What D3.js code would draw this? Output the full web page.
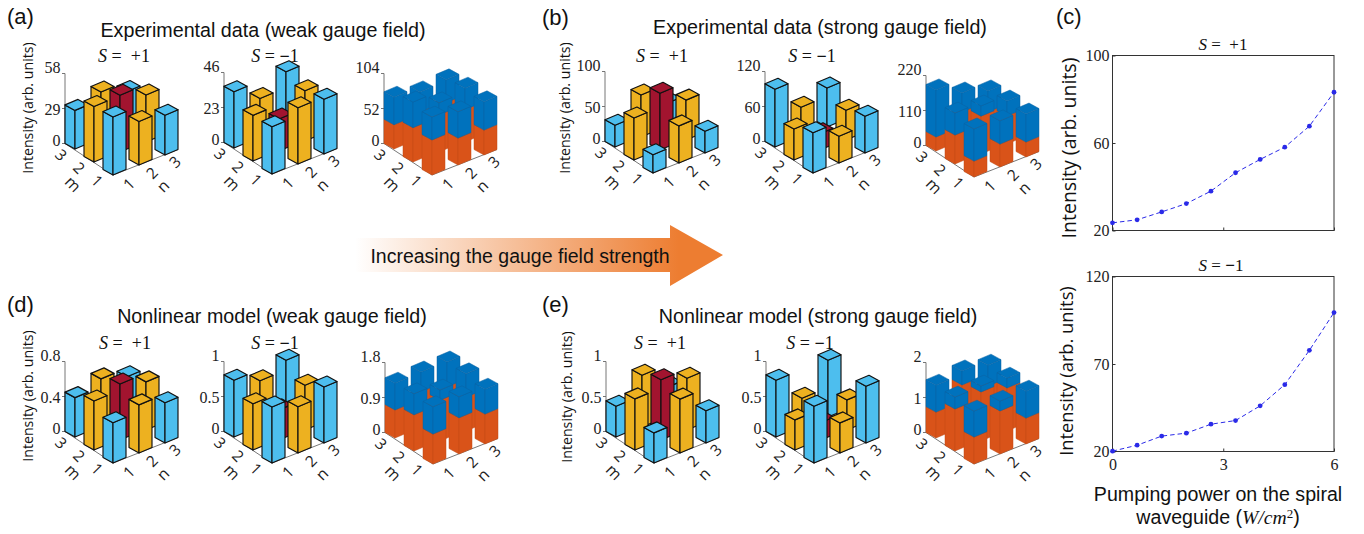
<!DOCTYPE html>
<html><head><meta charset="utf-8">
<script src="https://cdn.jsdelivr.net/npm/d3@7/dist/d3.min.js"></script>
<style>
html,body{margin:0;padding:0;background:#fff}
svg{display:block}
.ser{font-family:"Liberation Serif",serif}
.san{font-family:"Liberation Sans",Arial,sans-serif}
.seg{font-family:"Open Sans",sans-serif}
</style></head><body>
<svg id="c" width="1364" height="534"></svg>
<script>
// ---------- data (rows m = 1,2,3; columns n = 1,2,3) ----------
const mTicks = [1, 2, 3];
const nTicks = [1, 2, 3];

const a1Values = [[48, 36, 33], [46, 47, 39], [32, 39, 31]];
const a2Values = [[31, 37, 36], [30, 21, 33], [37, 26, 37]];
const a3Lower  = [[52, 40, 37], [51, 55, 48], [36, 40, 39]];
const a3Total  = [[86, 79, 79], [89, 73, 80], [77, 70, 73]];

const b1Values = [[26, 53, 31], [60, 81, 57], [31, 60, 34]];
const b2Values = [[69, 46, 63], [53, 28, 51], [99, 51, 67]];
const b3Lower  = [[50, 72, 47], [91, 119, 88], [44, 91, 60]];
const b3Total  = [[151, 145, 135], [160, 151, 135], [192, 151, 126]];

const d1Values = [[.46, .55, .46], [.56, .64, .55], [.45, .55, .46]];
const d2Values = [[.80, .66, .80], [.66, .43, .64], [.81, .66, .81]];
const d3Lower  = [[.77, .93, .77], [.93, 1.05, .87], [.72, .93, .80]];
const d3Total  = [[1.47, 1.47, 1.41], [1.47, 1.31, 1.47], [1.41, 1.44, 1.44]];

const e1Values = [[.43, .77, .46], [.73, .86, .74], [.44, .74, .43]];
const e2Values = [[.81, .43, .81], [.43, .25, .43], [.81, .41, .81]];
const e3Lower  = [[.77, 1.23, .74], [1.2, 1.4, 1.23], [.74, 1.23, .91]];
const e3Total  = [[1.51, 1.51, 1.51], [1.54, 1.57, 1.51], [1.51, 1.63, 1.51]];

const a1Ticks = ["0", "29", "58"],  a2Ticks = ["0", "23", "46"],  a3Ticks = ["0", "52", "104"];
const b1Ticks = ["0", "50", "100"], b2Ticks = ["0", "60", "120"], b3Ticks = ["0", "110", "220"];
const d1Ticks = ["0", "0.4", "0.8"], d2Ticks = ["0", "0.5", "1"], d3Ticks = ["0", "0.9", "1.8"];
const e1Ticks = ["0", "0.5", "1"],  e2Ticks = ["0", "0.5", "1"],  e3Ticks = ["0", "1", "2"];

const powerValues = [0, 0.667, 1.333, 2, 2.667, 3.333, 4, 4.667, 5.333, 6];
const plusIntensity  = [23.5, 24.9, 28.5, 32.3, 38, 46.4, 52.5, 58.1, 67.7, 83.2];
const minusIntensity = [20.2, 23.6, 28.8, 30.5, 35.6, 37.7, 46.1, 58.2, 77.8, 99.4];

// ---------- styles and layout ----------
const C = {cyan:"#4dbeee", gold:"#edb120", red:"#a2142f", blue:"#0072bd", rust:"#d95319"};
const svg = d3.select("#c");
const AXH = 70;
const mX = d3.scaleLinear([1,3],[0,-38]), mY = d3.scaleLinear([1,3],[0,-26]);
const nX = d3.scaleLinear([1,3],[0,52]),  nY = d3.scaleLinear([1,3],[0,-20]);
const foot = {mx:-10, my:-5.5, nx:13, ny:-5.5};
const line = d3.line();

function cellColor(mi, ni){
  const edge = (mi===1?1:0)+(ni===1?1:0);
  return edge===0 ? C.cyan : edge===1 ? C.gold : C.red;
}

function panel(fx, fy, ticks, opts){
  const g = svg.append("g");
  const max = +ticks[2];
  const z = d3.scaleLinear([0,max],[0,-AXH]);
  const P = (m,n,v=0,a=0,b=0)=>[fx+mX(m)+nX(n)+a*foot.mx+b*foot.nx, fy+mY(m)+nY(n)+z(v)+a*foot.my+b*foot.ny];
  const left = P(3,1,0,1,0), right = P(1,3,0,0,1), front = P(1,1);

  g.append("path").attr("d",line([left,front,right])).attr("fill","none").attr("stroke","#555").attr("stroke-width",.8);
  g.append("line").attr("x1",left[0]).attr("x2",left[0]).attr("y1",left[1]).attr("y2",left[1]-AXH)
    .attr("stroke","#666").attr("stroke-width",.9);
  const offs = [-3, 1, -6];
  ticks.forEach((t,i)=>{
    const y = left[1]+z(+t);
    g.append("line").attr("x1",left[0]-3).attr("x2",left[0]).attr("y1",y).attr("y2",y).attr("stroke","#666").attr("stroke-width",.9);
    g.append("text").attr("class","ser").attr("x",left[0]-4.5).attr("y",y+offs[i]).attr("dy","0.34em")
      .attr("text-anchor","end").attr("font-size",16).attr("fill","#222").text(t);
  });
  const lab = (x,y,rot,s,size)=>g.append("text").attr("class","seg").attr("text-anchor","middle").attr("dy","0.35em")
      .attr("font-size",size).attr("fill","#222").attr("transform",`translate(${x},${y}) rotate(${rot})`).text(s);
  mTicks.forEach((m,i)=>lab(fx-16-18*i, fy+6-13*i, 45, m, 15.5));
  nTicks.forEach((n,i)=>lab(fx+16+23*i, fy+9-11*i, -45, n, 15.5));
  lab(fx-40, fy+9, 45, "m", 16);
  lab(fx+50, fy+11, -45, "n", 16);

  function seg(m,n,v0,v1,fill,stroke,sw){
    const faces = [
      [P(m,n,v0),P(m,n,v0,1,0),P(m,n,v1,1,0),P(m,n,v1)],
      [P(m,n,v0),P(m,n,v0,0,1),P(m,n,v1,0,1),P(m,n,v1)],
      [P(m,n,v1),P(m,n,v1,1,0),P(m,n,v1,1,1),P(m,n,v1,0,1)]
    ];
    faces.forEach(f=>g.append("path").attr("d",line(f)+"Z").attr("fill",fill)
      .attr("stroke",stroke).attr("stroke-width",sw).attr("stroke-linejoin","round"));
  }
  for(let mi=2; mi>=0; mi--) for(let ni=2; ni>=0; ni--){
    const m = mTicks[mi], n = nTicks[ni];
    if(opts.values){
      seg(m,n,0,opts.values[mi][ni],cellColor(mi,ni),"#111",1.15);
    }else{
      seg(m,n,0,opts.lower[mi][ni],C.rust,"#c04a15",.5);
      seg(m,n,opts.lower[mi][ni],opts.total[mi][ni],C.blue,"#0a63a3",.5);
    }
  }
}

function txt(x,y,s,cls,size,anchor="middle",rot=0){
  return svg.append("text").attr("class",cls).attr("font-size",size).attr("text-anchor",anchor)
    .attr("fill","#111").attr("dy","0.35em")
    .attr("transform",`translate(${x},${y}) rotate(${rot})`).text(s);
}
function sLabel(x,y,sign,size=18){
  const t = svg.append("text").attr("class","ser").attr("font-size",size).attr("text-anchor","middle").attr("fill","#111")
    .attr("dy","0.35em").attr("x",x).attr("y",y).style("white-space","pre");
  t.append("tspan").attr("font-style","italic").text("S");
  t.append("tspan").text(sign>0 ? " =  +1" : " = ");
  if(sign<0){
    t.append("tspan").attr("font-weight","bold").text("−");
    t.append("tspan").text("1");
  }
}

// ---------- 3D panels ----------
panel(113,175,a1Ticks,{values:a1Values});
panel(272,174,a2Ticks,{values:a2Values});
panel(432,175,a3Ticks,{lower:a3Lower,total:a3Total});
panel(653,173,b1Ticks,{values:b1Values});
panel(813,173,b2Ticks,{values:b2Values});
panel(974,177,b3Ticks,{lower:b3Lower,total:b3Total});
panel(113,463,d1Ticks,{values:d1Values});
panel(272,463,d2Ticks,{values:d2Values});
panel(433,464,d3Ticks,{lower:d3Lower,total:d3Total});
panel(654,463,e1Ticks,{values:e1Values});
panel(814,463,e2Ticks,{values:e2Values});
panel(974,464,e3Ticks,{lower:e3Lower,total:e3Total});

// ---------- titles ----------
txt(263,30,"Experimental data (weak gauge field)","san",19.7);
txt(820,27,"Experimental data (strong gauge field)","san",19.7);
txt(272,316,"Nonlinear model (weak gauge field)","san",19.7);
txt(818,316,"Nonlinear model (strong gauge field)","san",19.7);
[[7,16,"(a)"],[542,17,"(b)"],[1056,16,"(c)"],[7,304,"(d)"],[542,304,"(e)"]].forEach(d=>txt(d[0],d[1],d[2],"san",22,"start"));
[[28,108],[565,108],[28,396],[567,397]].forEach(d=>txt(d[0],d[1],"Intensity (arb. units)","seg",14.2,"middle",-90));
[[124,56,1],[275,56,-1],[662,56,1],[812,56,-1],[125,343,1],[275,343,-1],[660,343,1],[810,343,-1]].forEach(d=>sLabel(d[0],d[1],d[2]));

// ---------- arrow ----------
const grad = svg.append("defs").append("linearGradient").attr("id","arr");
grad.append("stop").attr("offset",0).attr("stop-color","#ed7d31").attr("stop-opacity",0);
grad.append("stop").attr("offset",.88).attr("stop-color","#ed7d31").attr("stop-opacity",1);
svg.append("path").attr("fill","url(#arr)")
  .attr("d",line([[355,238],[670,238],[670,225],[723,255],[670,286],[670,272],[355,272]])+"Z");
txt(520,256,"Increasing the gauge field strength","san",19.5);

// ---------- line panels ----------
function linePanel(top,bottom,domain,yTicks,vals,showX){
  const x = d3.scaleLinear([0,6],[1112.5,1334]);
  const y = d3.scaleLinear(domain,[bottom,top]);
  const g = svg.append("g");
  g.append("rect").attr("x",x(0)).attr("y",top).attr("width",x(6)-x(0)).attr("height",bottom-top)
    .attr("fill","none").attr("stroke","#333").attr("stroke-width",1);
  const ax = g.append("g").attr("transform",`translate(0,${bottom})`)
    .call(d3.axisBottom(x).tickValues([0,3,6]).tickSize(-3).tickFormat(showX?d3.format("d"):""));
  const ay = g.append("g").attr("transform",`translate(${x(0)},0)`)
    .call(d3.axisLeft(y).tickValues(yTicks).tickSize(-3).tickFormat(d3.format("d")));
  [ax,ay].forEach(a=>{
    a.select(".domain").remove();
    a.selectAll("line").attr("stroke","#333");
    a.selectAll("text").attr("class","ser").attr("font-size",16).attr("fill","#222");
  });
  ax.selectAll("text").attr("dy",0).attr("y",18);
  ay.selectAll("text").attr("x",-3);
  g.append("path").attr("fill","none").attr("stroke","#2a2ae8").attr("stroke-width",1)
    .attr("stroke-dasharray","4.5 3")
    .attr("d",d3.line().x(d=>x(d[0])).y(d=>y(d[1]))(powerValues.map((p,i)=>[p,vals[i]])));
  g.selectAll("circle").data(vals).join("circle")
    .attr("cx",(d,i)=>x(powerValues[i])).attr("cy",d=>y(d)).attr("r",2.4).attr("fill","#2a2ae8");
}
linePanel(55.5,230.5,[20,100],[20,60,100],plusIntensity,false);
linePanel(276.5,451.5,[20,120],[20,70,120],minusIntensity,true);
sLabel(1223,44,1,17);
sLabel(1221,265,-1,17);
txt(1069,148,"Intensity (arb. units)","seg",19.5,"middle",-90);
txt(1067,371,"Intensity (arb. units)","seg",18.3,"middle",-90);
txt(1218,494,"Pumping power on the spiral","san",19.6);
const xl = svg.append("text").attr("class","san").attr("font-size",19.6).attr("text-anchor","middle")
  .attr("fill","#111").attr("x",1218).attr("y",517).attr("dy","0.35em");
xl.append("tspan").text("waveguide (");
xl.append("tspan").attr("class","ser").attr("font-style","italic").text("W/cm");
xl.append("tspan").attr("class","ser").attr("font-size",13).attr("dy",-6).text("2");
xl.append("tspan").attr("dy",6).text(")");
</script>
</body></html>
